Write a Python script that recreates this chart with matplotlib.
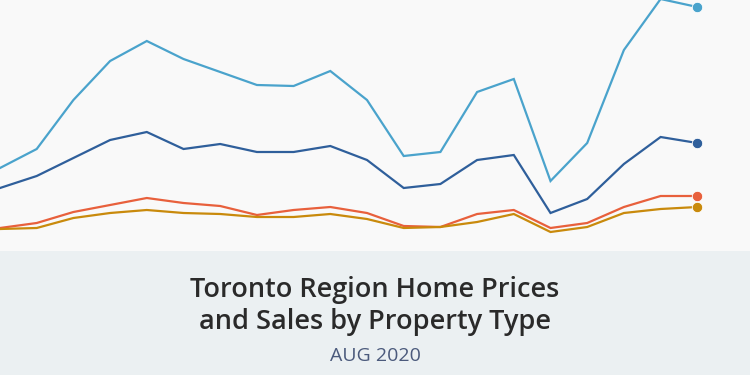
import numpy as np
import matplotlib.pyplot as plt

# month index, values (arbitrary price-index units)
months = list(range(20))
detached = [82, 101, 150, 189, 209, 191, 178, 165, 164, 179, 150, 94, 98, 158, 171, 69, 107, 200, 251, 243]
semi = [62, 74, 92, 110, 118, 101, 106, 98, 98, 104, 90, 62, 66, 90, 95, 37, 51, 86, 113, 107]
townhouse = [22, 27, 38, 45, 52, 47, 44, 35, 40, 43, 37, 24, 23, 36, 40, 22, 27, 43, 54, 54]
condo = [21, 22, 32, 37, 40, 37, 36, 33, 33, 36, 31, 22, 23, 28, 36, 18, 23, 37, 41, 43]

series = [
    (detached, "#4aa3cc"),
    (semi, "#2f5f9b"),
    (townhouse, "#e8603c"),
    (condo, "#c98a0c"),
]

fig = plt.figure(figsize=(7.5, 3.75), dpi=100)
fig.patch.set_facecolor("#f9f9f9")

# chart area: top 250 px of the 375 px image
ax = fig.add_axes([0, 125 / 375, 1, 250 / 375])
ax.set_facecolor("#f9f9f9")
for vals, color in series:
    ax.plot(months, vals, color=color, lw=1.6, solid_joinstyle="miter")
    ax.plot(months[-1], vals[-1], "o", color=color, ms=7.5, mec="white", mew=0.6)
ax.set_xlim(0, 750 / 36.7)
ax.set_ylim(0, 250)
ax.axis("off")

# title band
band = fig.add_axes([0, 0, 1, 124 / 375])
band.set_facecolor("#ebf0f2")
band.set_xticks([])
band.set_yticks([])
for s in band.spines.values():
    s.set_visible(False)

fig.text(0.5, 1 - 297 / 375, "Toronto Region Home Prices", ha="center", va="baseline",
         fontsize=19.5, color="#2a2a2a", family="Open Sans", fontweight="semibold")
fig.text(0.5, 1 - 329 / 375, "and Sales by Property Type", ha="center", va="baseline",
         fontsize=19.5, color="#2a2a2a", family="Open Sans", fontweight="semibold")
fig.text(0.5, 1 - 361 / 375, "AUG 2020", ha="center", va="baseline",
         fontsize=14, color="#4b5a7c", family="Open Sans")

fig.savefig("out.png", dpi=100, facecolor=fig.get_facecolor())
